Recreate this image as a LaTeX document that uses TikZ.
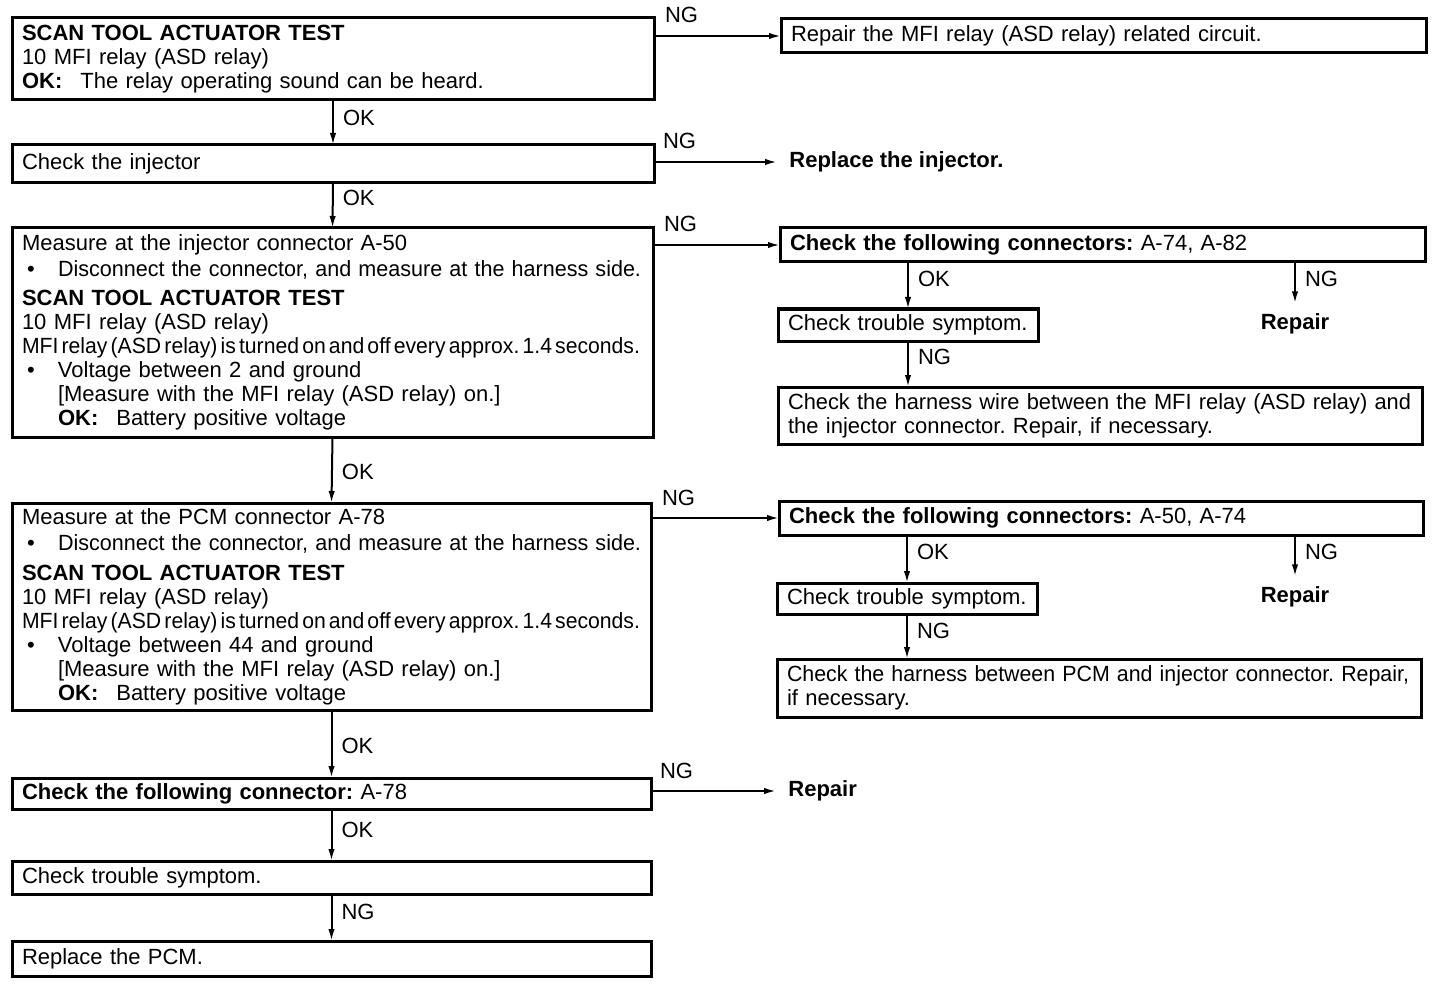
\documentclass[tikz,border=0pt]{standalone}
\usepackage{graphicx}
\usepackage{fontspec}
\setmainfont{Liberation Sans}
\usetikzlibrary{arrows.meta}
\newcommand\bul{\hspace*{2.5pt}\makebox[15.5pt][l]{\textbullet}}
\newcommand\ind{\hspace*{18pt}}
\newcommand\fitw[2]{\resizebox{#1}{\height}{#2}}
\newcommand\tight[1]{\fitw{309pt}{\spaceskip=0.15em\relax #1}}
\begin{document}
\begin{tikzpicture}[x=0.5pt,y=-0.5pt,
  font=\fontsize{11}{12}\selectfont\frenchspacing,
  box/.style={draw, line width=1.5pt, anchor=north west, outer sep=0pt,
    inner xsep=5pt, inner ysep=2pt, align=left},
  arr/.style={line width=1pt, -{Latex[length=6pt,width=3.2pt]}},
  lbl/.style={inner sep=0pt},
  free/.style={font=\fontsize{11}{12}\selectfont\bfseries, inner xsep=6pt, inner ysep=5pt},
]
\useasboundingbox[fill=white] (0,0) rectangle (1440,984);

% left column
\node[box, minimum width=321pt, minimum height=41pt, text width=311pt] (b1) at (12,18)
  {\textbf{SCAN TOOL ACTUATOR TEST}\\
   10 MFI relay (ASD relay)\\
   \textbf{OK:}\hspace{9pt}The relay operating sound can be heard.};
\node[box, minimum width=321pt, minimum height=19pt, text width=311pt] (b2) at (12,145)
  {Check the injector};
\node[box, minimum width=320.5pt, minimum height=104.5pt, text width=310.5pt] (b3) at (12,228)
  {Measure at the injector connector A-50\\[1pt]
   \bul\fitw{291.5pt}{Disconnect the connector, and measure at the harness side.}\\[2.5pt]
   \textbf{SCAN TOOL ACTUATOR TEST}\\
   10 MFI relay (ASD relay)\\
   \tight{MFI relay (ASD relay) is turned on and off every approx. 1.4 seconds.}\\
   \bul Voltage between 2 and ground\\
   \ind [Measure with the MFI relay (ASD relay) on.]\\
   \ind \textbf{OK:}\hspace{9pt}Battery positive voltage};
\node[box, minimum width=319.5pt, minimum height=103.5pt, text width=309.5pt] (b4) at (12,503)
  {Measure at the PCM connector A-78\\[1pt]
   \bul\fitw{291.5pt}{Disconnect the connector, and measure at the harness side.}\\[3pt]
   \textbf{SCAN TOOL ACTUATOR TEST}\\
   10 MFI relay (ASD relay)\\
   \tight{MFI relay (ASD relay) is turned on and off every approx. 1.4 seconds.}\\
   \bul Voltage between 44 and ground\\
   \ind [Measure with the MFI relay (ASD relay) on.]\\
   \ind \textbf{OK:}\hspace{9pt}Battery positive voltage};
\node[box, minimum width=319.5pt, minimum height=15.5pt, text width=309.5pt] (b5) at (12,778)
  {\textbf{Check the following connector:} A-78};
\node[box, minimum width=319.5pt, minimum height=16.5pt, text width=309.5pt] (b6) at (12,861)
  {Check trouble symptom.};
\node[box, minimum width=319.5pt, minimum height=17.5pt, text width=309.5pt] (b7) at (12,941)
  {Replace the PCM.};

% right column
\node[box, minimum width=322.5pt, minimum height=17pt, text width=312.5pt] (r1) at (781,19)
  {Repair the MFI relay (ASD relay) related circuit.};
\node[free, anchor=west] (inj) at (777,162) {Replace the injector.};

\node[box, minimum width=322.5pt, minimum height=17pt, text width=312.5pt] (r3a) at (780,228)
  {\textbf{Check the following connectors:} A-74, A-82};
\node[box, minimum width=130pt, minimum height=16pt, text width=120pt] (r3b) at (778,309)
  {Check trouble symptom.};
\node[free] (rep3) at (1295,324) {Repair};
\node[box, minimum width=322pt, minimum height=28.5pt, text width=312pt] (r3c) at (778,387)
  {\fitw{311.5pt}{Check the harness wire between the MFI relay (ASD relay) and}\\
   the injector connector. Repair, if necessary.};

\node[box, minimum width=322pt, minimum height=17pt, text width=312pt] (r4a) at (779,501)
  {\textbf{Check the following connectors:} A-50, A-74};
\node[box, minimum width=130pt, minimum height=15.5pt, text width=120pt] (r4b) at (777,583)
  {Check trouble symptom.};
\node[free] (rep4) at (1295,597) {Repair};
\node[box, minimum width=322pt, minimum height=29pt, text width=312pt] (r4c) at (777,659)
  {\fitw{311pt}{Check the harness between PCM and injector connector. Repair,}\\
   if necessary.};

\node[free, anchor=west] (rep5) at (776,791) {Repair};

% vertical connectors, left column
\draw[arr] (b1.south) -- node[lbl, pos=0.4, anchor=west, xshift=4.5pt] {OK} (b2.north);
\draw[arr] (b2.south) -- node[lbl, pos=0.33, anchor=west, xshift=4.5pt] {OK} (b3.north);
\draw[arr] (b3.south) -- node[lbl, pos=0.53, anchor=west, xshift=4.5pt] {OK} (b4.north);
\draw[arr] (b4.south) -- node[lbl, pos=0.53, anchor=west, xshift=4.5pt] {OK} (b5.north);
\draw[arr] (b5.south) -- node[lbl, pos=0.4, anchor=west, xshift=4.5pt] {OK} (b6.north);
\draw[arr] (b6.south) -- node[lbl, pos=0.38, anchor=west, xshift=4.5pt] {NG} (b7.north);

% horizontal NG connectors
\draw[arr] (b1.east |- r1.west) -- node[lbl, pos=0, anchor=base west, xshift=5pt, yshift=6.5pt] {NG} (r1.west);
\draw[arr] (b2.east |- inj.west) -- node[lbl, pos=0, anchor=base west, xshift=4pt, yshift=6.5pt] {NG} (inj.west);
\draw[arr] (b3.east |- r3a.west) -- node[lbl, pos=0, anchor=base west, xshift=5pt, yshift=6.5pt] {NG} (r3a.west);
\draw[arr] (b4.east |- r4a.west) -- node[lbl, pos=0, anchor=base west, xshift=5pt, yshift=6.5pt] {NG} (r4a.west);
\draw[arr] (b5.east |- rep5.west) -- node[lbl, pos=0, anchor=base west, xshift=4pt, yshift=6.5pt] {NG} (rep5.west);

% right column connectors
\draw[arr] (r3a.south -| r3b.north) -- node[lbl, pos=0.35, anchor=west, xshift=4.5pt] {OK} (r3b.north);
\draw[arr] (rep3.north |- r3a.south) -- node[lbl, pos=0.4, anchor=west, xshift=4.5pt] {NG} (rep3.north);
\draw[arr] (r3b.south) -- node[lbl, pos=0.35, anchor=west, xshift=4.5pt] {NG} (r3c.north -| r3b.south);
\draw[arr] (r4a.south -| r4b.north) -- node[lbl, pos=0.35, anchor=west, xshift=4.5pt] {OK} (r4b.north);
\draw[arr] (rep4.north |- r4a.south) -- node[lbl, pos=0.4, anchor=west, xshift=4.5pt] {NG} (rep4.north);
\draw[arr] (r4b.south) -- node[lbl, pos=0.38, anchor=west, xshift=4.5pt] {NG} (r4c.north -| r4b.south);
\end{tikzpicture}
\end{document}
